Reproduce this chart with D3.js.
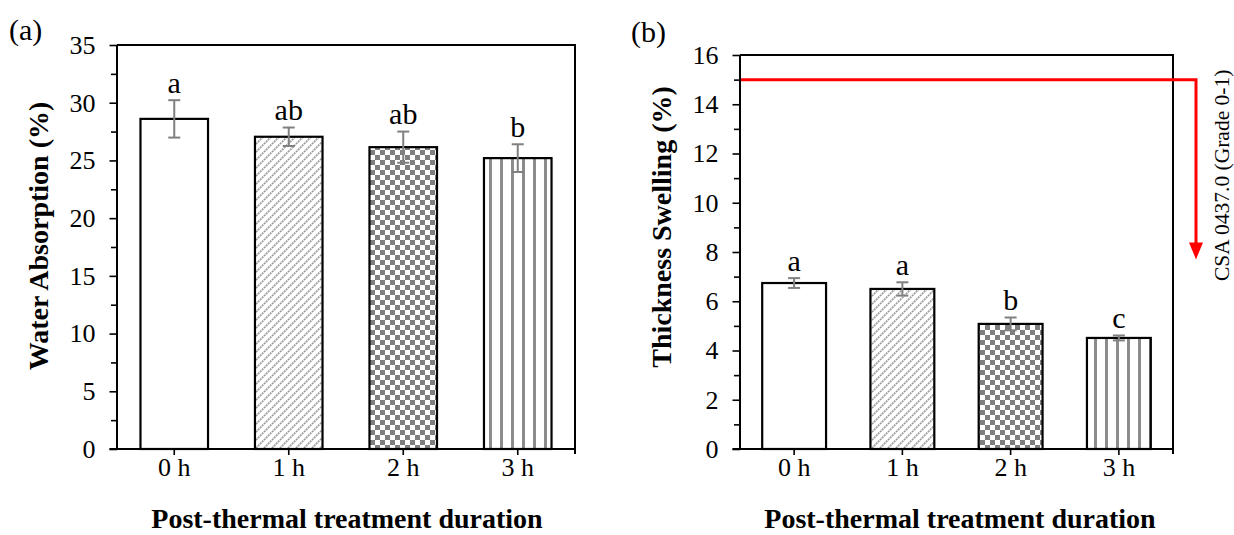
<!DOCTYPE html>
<html>
<head>
<meta charset="utf-8">
<script src="https://cdn.jsdelivr.net/npm/d3@7"></script>
<style>
  body { margin: 0; background: #fff; }
  text { font-family: "Liberation Serif", "Times New Roman", serif; }
</style>
</head>
<body>
<svg id="svg" width="1234" height="535"></svg>
<script>
// data
var categories = ["0 h", "1 h", "2 h", "3 h"];

var waterAbsorption = [28.6, 27.05, 26.15, 25.2];
var waterAbsorptionErr = [1.62, 0.8, 1.35, 1.2];
var waterAbsorptionLetters = ["a", "ab", "ab", "b"];
var waterTicks = [0, 5, 10, 15, 20, 25, 30, 35];

var thicknessSwelling = [6.74, 6.5, 5.08, 4.51];
var thicknessSwellingErr = [0.2, 0.27, 0.26, 0.1];
var thicknessSwellingLetters = ["a", "a", "b", "c"];
var swellingTicks = [0, 2, 4, 6, 8, 10, 12, 14, 16];

var csaLimit = 15;       // CSA 0437.0 grade 0-1 limit
var csaArrowEnd = 7.7;   // where the red arrow points to

var barFills = ["#fff", "url(#diag)", "url(#checker)", "url(#vert)"];

var svg = d3.select("#svg");
svg.append("rect").attr("width", 1234).attr("height", 535).attr("fill", "#fff");

// fill patterns
var defs = svg.append("defs");
var diag = defs.append("pattern").attr("id", "diag")
  .attr("patternUnits", "userSpaceOnUse").attr("width", 8).attr("height", 8);
diag.append("rect").attr("width", 8).attr("height", 8).attr("fill", "#fff");
diag.append("path").attr("d", "M-2,2 l4,-4 M0,8 l8,-8 M6,10 l4,-4")
  .attr("stroke", "#a0a0a0").attr("stroke-width", 1.8)
  .attr("stroke-dasharray", "2,0.8");

var checker = defs.append("pattern").attr("id", "checker")
  .attr("patternUnits", "userSpaceOnUse").attr("width", 10).attr("height", 10);
checker.append("rect").attr("width", 10).attr("height", 10).attr("fill", "#fff");
checker.append("rect").attr("width", 5).attr("height", 5).attr("fill", "#7f7f7f");
checker.append("rect").attr("x", 5).attr("y", 5).attr("width", 5).attr("height", 5).attr("fill", "#7f7f7f");

var vert = defs.append("pattern").attr("id", "vert")
  .attr("patternUnits", "userSpaceOnUse").attr("width", 11).attr("height", 11);
vert.append("rect").attr("width", 11).attr("height", 11).attr("fill", "#fff");
vert.append("rect").attr("x", 5).attr("width", 3).attr("height", 11).attr("fill", "#8c8c8c");

function drawPanel(p) {
  var x = d3.scaleBand().domain(categories).range([p.left, p.right])
    .paddingInner(0.41).paddingOuter(0.205);
  var y = d3.scaleLinear().domain([0, p.yMax]).range([p.bottom, p.top]);
  var g = svg.append("g");

  // frame (top + right)
  g.append("path")
    .attr("d", "M" + p.left + "," + p.top + "H" + p.right + "V" + (p.bottom + 5))
    .attr("fill", "none").attr("stroke", "#000").attr("stroke-width", 2);

  // bars
  g.selectAll(".bar").data(p.values).enter().append("rect")
    .attr("x", (d, i) => x(categories[i]))
    .attr("y", d => y(d))
    .attr("width", x.bandwidth())
    .attr("height", d => y(0) - y(d))
    .attr("fill", (d, i) => barFills[i])
    .attr("stroke", "#000").attr("stroke-width", 2.2);

  // error bars
  var cx = (i) => x(categories[i]) + x.bandwidth() / 2;
  var eb = g.selectAll(".err").data(p.values).enter().append("g")
    .attr("stroke", "#808080").attr("stroke-width", 2);
  eb.append("line")
    .attr("x1", (d, i) => cx(i)).attr("x2", (d, i) => cx(i))
    .attr("y1", (d, i) => y(d + p.errs[i])).attr("y2", (d, i) => y(d - p.errs[i]));
  eb.append("line")
    .attr("x1", (d, i) => cx(i) - 6).attr("x2", (d, i) => cx(i) + 6)
    .attr("y1", (d, i) => y(d + p.errs[i])).attr("y2", (d, i) => y(d + p.errs[i]));
  eb.append("line")
    .attr("x1", (d, i) => cx(i) - 6).attr("x2", (d, i) => cx(i) + 6)
    .attr("y1", (d, i) => y(d - p.errs[i])).attr("y2", (d, i) => y(d - p.errs[i]));

  // significance letters
  g.selectAll(".letter").data(p.letters).enter().append("text")
    .attr("x", (d, i) => cx(i))
    .attr("y", (d, i) => y(p.values[i] + p.errs[i]) - 7.5)
    .attr("text-anchor", "middle")
    .attr("font-size", 30)
    .text(d => d);

  // y axis: minor then major ticks
  g.append("g").attr("transform", "translate(" + p.left + ",0)")
    .call(d3.axisLeft(y).tickValues(p.minor).tickSize(6).tickFormat(""))
    .call(a => a.select(".domain").remove())
    .call(a => a.selectAll("line").attr("stroke-width", 1.6));
  g.append("g").attr("transform", "translate(" + p.left + ",0)")
    .call(d3.axisLeft(y).tickValues(p.ticks).tickSize(7.5).tickPadding(14))
    .call(a => a.select(".domain").remove())
    .call(a => a.selectAll("line").attr("stroke-width", 1.6))
    .call(a => a.selectAll("text").attr("font-size", 26).attr("fill", "#000")
      .style("font-family", "'Liberation Serif', serif"));
  g.append("line")
    .attr("x1", p.left).attr("x2", p.left).attr("y1", p.top).attr("y2", p.bottom)
    .attr("stroke", "#000").attr("stroke-width", 2);

  // x axis
  g.append("g").attr("transform", "translate(0," + p.bottom + ")")
    .call(d3.axisBottom(x).tickSize(6).tickSizeOuter(0).tickPadding(3))
    .call(a => a.select(".domain").remove())
    .call(a => a.selectAll("line").attr("stroke-width", 1.6))
    .call(a => a.selectAll("text").attr("font-size", 26).attr("fill", "#000")
      .style("font-family", "'Liberation Serif', serif"));
  g.append("line")
    .attr("x1", p.left - 7.5).attr("x2", p.right).attr("y1", p.bottom).attr("y2", p.bottom)
    .attr("stroke", "#000").attr("stroke-width", 2);

  // titles
  g.append("text")
    .attr("transform", "translate(" + p.yTitleX + "," + p.yTitleY + ") rotate(-90)")
    .attr("text-anchor", "middle")
    .attr("font-size", 28).attr("font-weight", "bold")
    .text(p.yTitle);
  g.append("text")
    .attr("x", p.xTitleX).attr("y", 528)
    .attr("text-anchor", "middle")
    .attr("font-size", 28).attr("font-weight", "bold")
    .text("Post-thermal treatment duration");
  g.append("text")
    .attr("x", p.labelX).attr("y", p.labelY)
    .attr("font-size", 30)
    .text(p.label);

  return { x: x, y: y };
}

drawPanel({
  left: 117, right: 575, top: 45, bottom: 449, yMax: 35,
  ticks: waterTicks, minor: d3.range(2.5, 35, 5),
  values: waterAbsorption, errs: waterAbsorptionErr, letters: waterAbsorptionLetters,
  yTitle: "Water Absorption (%)", yTitleX: 48, yTitleY: 236, xTitleX: 347,
  label: "(a)", labelX: 9, labelY: 40
});

var b = drawPanel({
  left: 740, right: 1173, top: 55, bottom: 449, yMax: 16,
  ticks: swellingTicks, minor: d3.range(1, 16, 2),
  values: thicknessSwelling, errs: thicknessSwellingErr, letters: thicknessSwellingLetters,
  yTitle: "Thickness Swelling (%)", yTitleX: 671, yTitleY: 227, xTitleX: 960,
  label: "(b)", labelX: 631, labelY: 42
});

// CSA limit annotation
var arrowX = 1196;
var tipY = b.y(csaArrowEnd);
svg.append("path")
  .attr("d", "M" + 741 + "," + b.y(csaLimit) + "H" + arrowX + "V" + (tipY - 15))
  .attr("fill", "none").attr("stroke", "#ff0000").attr("stroke-width", 3);
svg.append("path")
  .attr("d", "M" + (arrowX - 7) + "," + (tipY - 17) + "L" + (arrowX + 7) + "," + (tipY - 17) +
    "L" + arrowX + "," + tipY + "Z")
  .attr("fill", "#ff0000");
svg.append("text")
  .attr("transform", "translate(1229,281) rotate(-90)")
  .attr("font-size", 21.5)
  .text("CSA 0437.0 (Grade 0-1)");
</script>
</body>
</html>
